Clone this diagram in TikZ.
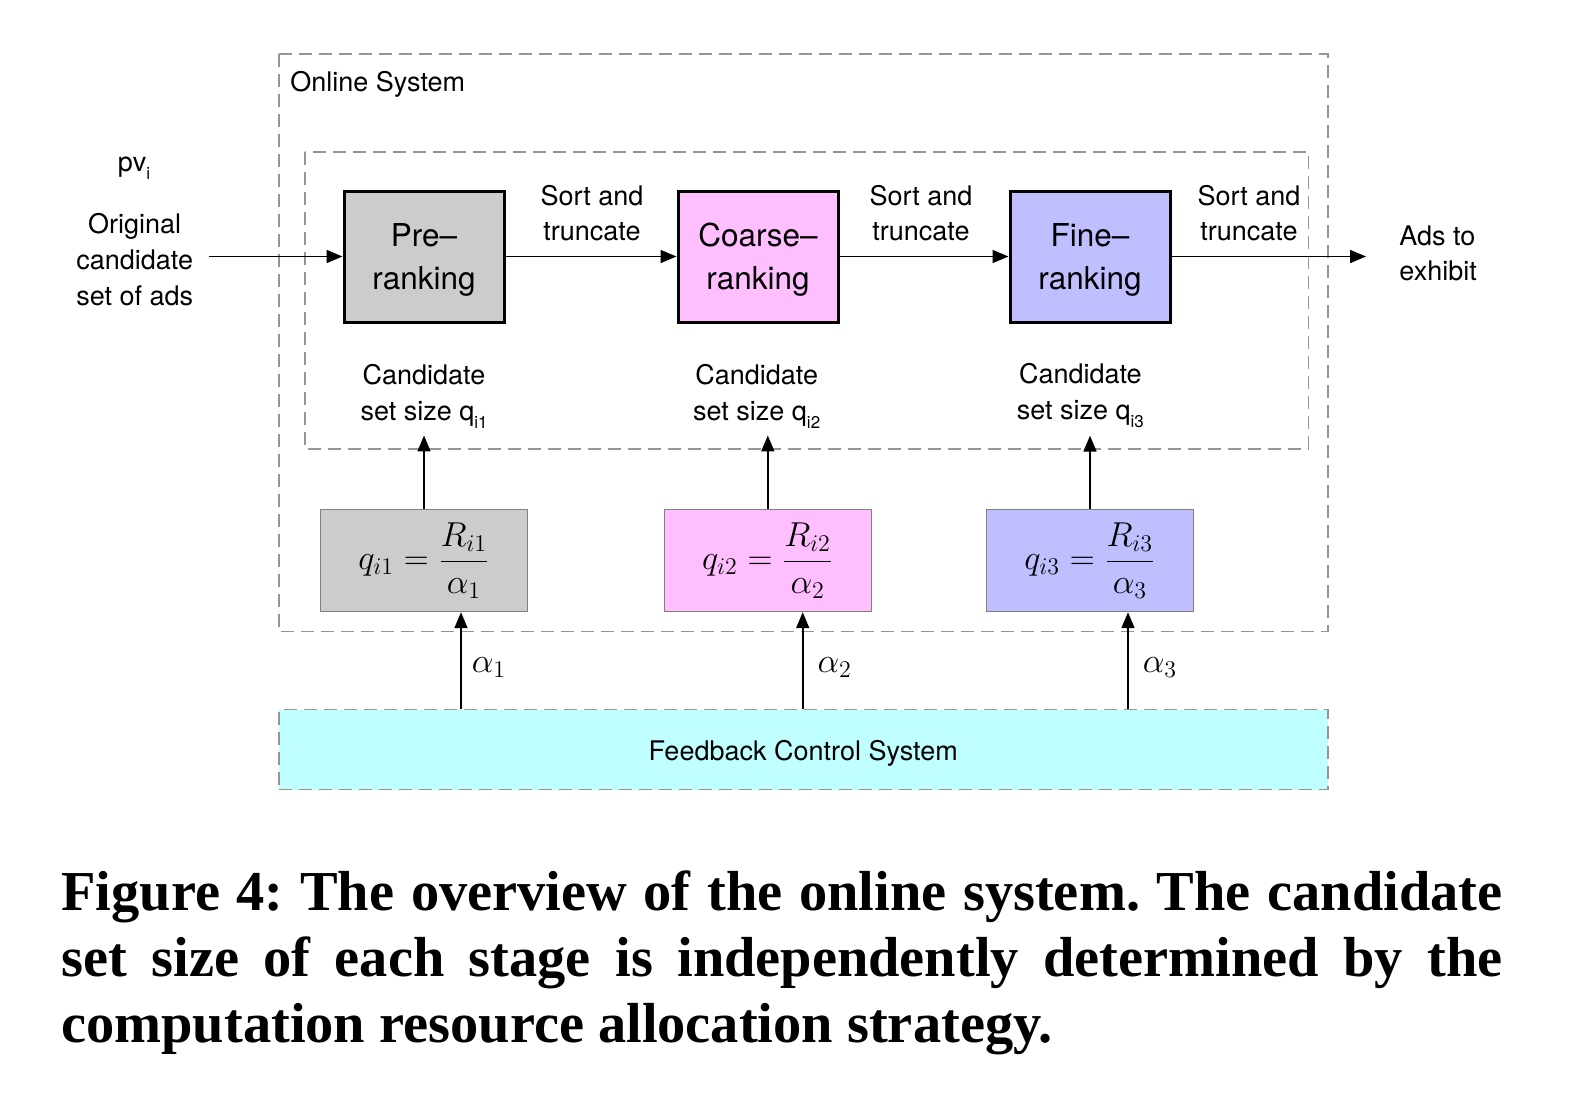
\documentclass[tikz,border=0pt]{standalone}
\usepackage{fontspec}
\setsansfont{TeX Gyre Heros}
\newfontfamily\capfont{Liberation Serif}
\usetikzlibrary{arrows.meta}
\definecolor{cgray}{HTML}{CCCCCC}
\definecolor{cpink}{HTML}{FFBFFF}
\definecolor{cblue}{HTML}{BFBFFF}
\definecolor{ccyan}{HTML}{BFFFFF}
\definecolor{cdash}{HTML}{959595}
\newcommand{\mysub}[1]{\raisebox{-4pt}{\fontsize{8.5}{8.5}\selectfont #1}}
\begin{document}
\frenchspacing
\begin{tikzpicture}[x=0.5pt,y=-0.5pt,
  every node/.style={font=\sffamily\fontsize{13.5}{17.5}\selectfont},
  lbl/.style={align=center, inner sep=3.5pt},
  stage/.style={draw=black, line width=1.5pt, minimum width=80pt, minimum height=65.5pt,
    align=center, inner sep=0pt, font=\sffamily\fontsize{15.75}{21.5}\selectfont},
  frm/.style={draw=black!50, line width=0.7pt, minimum width=103.5pt, minimum height=51pt,
    inner sep=0pt, font=\fontsize{16.5}{20}\selectfont},
  dbox/.style={draw=cdash, line width=0.9pt, dash pattern=on 6.5pt off 3.5pt},
  arr/.style={line width=0.85pt, -{Triangle[length=8pt,width=6.5pt]}},
]
\useasboundingbox (0,0) rectangle (1590,1114);
% containers
\draw[dbox] (278.7,53.7) rectangle (1327.7,631.4);
\draw[dbox] (305,152) rectangle (1308.4,449);
\node[anchor=base west, inner sep=0pt] (online) at (290,91) {Online System};

% inputs / outputs
\node[anchor=base, inner sep=0pt] (pv) at (134,171.7) {pv\mysub{i}};
\node[lbl, inner xsep=7.5pt, font=\sffamily\fontsize{13.5}{18}\selectfont] (orig) at (134.7,259.5) {Original\\candidate\\set of ads};
\node[align=left, anchor=west, inner xsep=16.5pt, inner ysep=0pt] (ads) at (1366,253.6) {Ads to\\exhibit};

% stages
\node[stage, fill=cgray] (pre) at (424,256.5) {\rule{0pt}{15.3pt}Pre--\\ranking};
\node[stage, fill=cpink] (coarse) at (758,256.5) {\rule{0pt}{15.3pt}Coarse--\\ranking};
\node[stage, fill=cblue] (fine) at (1090,256.5) {\rule{0pt}{15.3pt}Fine--\\ranking};

\node[lbl] (st1) at (592,212.8) {Sort and\\truncate};
\node[lbl] (st2) at (921,212.8) {Sort and\\truncate};
\node[lbl] (st3) at (1249,212.8) {Sort and\\truncate};

\draw[arr] (orig.east |- pre.west) -- (pre.west);
\draw[arr] (pre.east) -- (coarse.west);
\draw[arr] (coarse.east) -- (fine.west);
\draw[arr] (fine.east) -- (ads.west |- fine.east);

% candidate set sizes
\node[lbl, font=\sffamily\fontsize{13.5}{18}\selectfont] (c1) at (424,396) {Candidate\\set size q\mysub{i1}};
\node[lbl, font=\sffamily\fontsize{13.5}{18}\selectfont] (c2) at (756.7,396) {Candidate\\set size q\mysub{i2}};
\node[lbl, font=\sffamily\fontsize{13.5}{18}\selectfont] (c3) at (1080.4,396) {Candidate\\set size q\mysub{i3}};

% formula boxes
\node[frm, fill=cgray] (f1) at (424,560.5) {$\displaystyle q_{i1}=\frac{R_{i1}}{\alpha_1}$};
\node[frm, fill=cpink] (f2) at (767.8,560.5) {$\displaystyle q_{i2}=\frac{R_{i2}}{\alpha_2}$};
\node[frm, fill=cblue] (f3) at (1090,560.5) {$\displaystyle q_{i3}=\frac{R_{i3}}{\alpha_3}$};

\draw[arr] (f1.north) -- (f1.north |- c1.south);
\draw[arr] (f2.north) -- (f2.north |- c2.south);
\draw[arr] (f3.north) -- (f3.north |- c3.south);

% feedback control system
\node[dbox, fill=ccyan, minimum width=524.5pt, minimum height=40pt] (fb) at (803.2,749.5) {\rule{0pt}{13.5pt}Feedback Control System};

\coordinate (a1) at (461,660);
\coordinate (a2) at (802.7,660);
\coordinate (a3) at (1128,660);
\draw[arr] (fb.north -| a1) -- (f1.south -| a1) node[midway, anchor=west, inner xsep=5pt, yshift=-3.5pt, font=\fontsize{16.5}{20}\selectfont] (al1) {$\alpha_1$};
\draw[arr] (fb.north -| a2) -- (f2.south -| a2) node[midway, anchor=west, inner xsep=7pt, yshift=-3.5pt, font=\fontsize{16.5}{20}\selectfont] (al2) {$\alpha_2$};
\draw[arr] (fb.north -| a3) -- (f3.south -| a3) node[midway, anchor=west, inner xsep=7pt, yshift=-3.5pt, font=\fontsize{16.5}{20}\selectfont] (al3) {$\alpha_3$};

% caption
\node[anchor=base west, inner sep=0pt, font=\capfont\bfseries\fontsize{28.2}{33}\selectfont] (cap) at (61,910.7)
  {\parbox[t]{720.5pt}{\frenchspacing\makebox[720.5pt][s]{Figure 4: The overview of the online system. The candidate}\\
   \makebox[720.5pt][s]{set size of each stage is independently determined by the}\\
   computation resource allocation strategy.}};
\end{tikzpicture}
\end{document}
